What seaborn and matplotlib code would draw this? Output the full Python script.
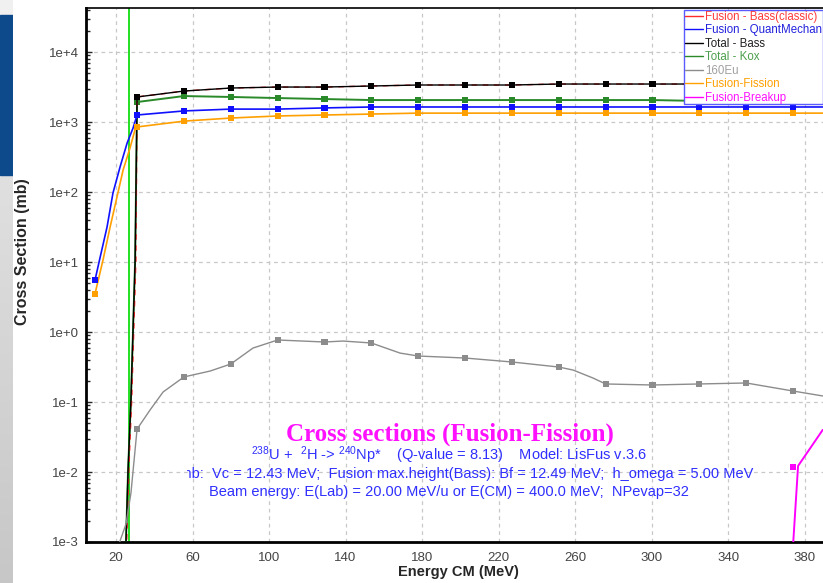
import numpy as np
import matplotlib
matplotlib.use("Agg")
import matplotlib.pyplot as plt
import seaborn as sns
from matplotlib.lines import Line2D
from matplotlib.patches import Rectangle
from matplotlib.ticker import FixedLocator, FuncFormatter, LogLocator, NullFormatter

sns.set_style("white")
plt.rcParams["font.family"] = ["Liberation Sans", "DejaVu Sans"]
plt.rcParams["mathtext.fontset"] = "custom"
plt.rcParams["mathtext.rm"] = "Liberation Sans"
plt.rcParams["mathtext.default"] = "regular"

# ---------------- data (E in MeV, cross sections in mb) ----------------
MARK_E = [9.0, 31.0, 55.5, 80.0, 104.5, 129.0, 153.5, 178.0, 202.5, 227.0,
          251.5, 276.0, 300.5, 325.0, 349.5, 374.0]

# barrier region, steep part of the classical curves
STEEP_E = [24.2, 25.2, 26.3, 27.8, 30.0]
STEEP_RED_E = [24.6, 25.6, 26.7, 28.2, 30.4]
STEEP_V = [1e-4, 1e-3, 1.07e-2, 1.07e-1, 10.7]

GRID_E = [31.0, 55.5, 80.0, 104.5, 129.0, 153.5, 178.0, 202.5, 227.0, 251.5,
          276.0, 300.5, 325.0, 349.5, 374.0, 389.5]
TOTAL_BASS = [2280, 2770, 3060, 3160, 3160, 3270, 3380, 3380, 3380, 3490,
              3490, 3490, 3490, 3490, 3490, 3490]
FUSION_BASS = [2280, 2770, 3060, 3160, 3160, 3270, 3380, 3380, 3380, 3490,
               3490, 3490, 3490, 3490, 3490, 3490]
TOTAL_KOX = [1930, 2350, 2280, 2200, 2130, 2060, 2060, 2060, 2060, 2060,
             2060, 2060, 2000, 2000, 2000, 2000]
QUANT = [1260, 1440, 1530, 1530, 1590, 1640, 1640, 1640, 1640, 1640,
         1640, 1640, 1640, 1640, 1640, 1640]
FISSION = [850, 1030, 1140, 1220, 1260, 1300, 1340, 1340, 1340, 1340,
           1340, 1340, 1340, 1340, 1340, 1340]

QUANT_RISE_E = [9.0, 11.6, 15.3, 18.4, 22.1, 25.8, 28.9]
QUANT_RISE = [5.5, 11.4, 31.6, 96.8, 228, 501, 820]
FISSION_RISE_E = [9.0, 13.2, 16.9, 20.5, 23.7, 27.3, 29.9]
FISSION_RISE = [3.5, 10.7, 31.6, 84.8, 206, 425, 769]

EU_E = [18.0, 25.2, 27.8, 31.0, 37.8, 44.6, 55.5, 69.2, 80.0, 91.6, 104.5,
        129.0, 138.7, 153.5, 168.5, 178.0, 202.5, 227.0, 251.5, 259.0, 269.4,
        276.0, 300.5, 325.0, 349.5, 374.0, 389.5]
EU_V = [5e-4, 1.8e-3, 5.0e-3, 0.041, 0.077, 0.139, 0.228, 0.277, 0.349, 0.59,
        0.769, 0.72, 0.743, 0.697, 0.50, 0.454, 0.425, 0.373, 0.316, 0.286,
        0.22, 0.181, 0.175, 0.181, 0.187, 0.1435, 0.122]

BREAKUP_E = [373.4, 376.6, 389.5]
BREAKUP_V = [5e-4, 0.0122, 0.040]
BREAKUP_MARK_E = [374.0]
BREAKUP_MARK_V = [0.0118]

BARRIER_E = 26.8

LABELS = ["Fusion - Bass(classic)", "Fusion - QuantMechan", "Total - Bass",
          "Total - Kox", "160Eu", "Fusion-Fission", "Fusion-Breakup"]
COLORS = ["#ff2a2a", "#1010ff", "#000000", "#2a8a2a", "#8c8c8c", "#ffa000", "#ff00ff"]
TEXT_COLORS = ["#ff3a3a", "#2222dd", "#202020", "#4c9e4c", "#a0a0a0", "#ffa000", "#ff10ff"]

YTICKS = [1e-3, 1e-2, 1e-1, 1e0, 1e1, 1e2, 1e3, 1e4]
YTICK_LABELS = ["1e-3", "1e-2", "1e-1", "1e+0", "1e+1", "1e+2", "1e+3", "1e+4"]
XTICKS = [20, 60, 100, 140, 180, 220, 260, 300, 340, 380]

# ---------------- figure ----------------
W, H = 823, 583
fig = plt.figure(figsize=(W / 100, H / 100), dpi=100)
fig.patch.set_facecolor("white")

# window-side strip on the left
strip = fig.add_axes([0, 0, 13 / W, 1])
grad = np.linspace(0.78, 0.92, 256)[:, None]
strip.imshow(np.dstack([grad, grad, grad]), aspect="auto", extent=[0, 1, 0, H],
             origin="lower")
strip.add_patch(Rectangle((0, H - 15), 1, 15, color="#f0f0f0"))
strip.add_patch(Rectangle((0, H - 175), 1, 160, color="#0c4a8c"))
strip.set_xlim(0, 1)
strip.set_ylim(0, H)
strip.axis("off")

ax = fig.add_axes([86 / W, 41 / H, (830 - 86) / W, (575 - 41) / H])
ax.set_yscale("log")
ax.set_xlim(4.3, 393.3)
ax.set_ylim(1e-3, 10 ** 4.629)


def draw(e, v, color, lw=1.0, z=3, ls="-", marks=True):
    sns.lineplot(x=e, y=v, ax=ax, color=color, linewidth=lw, linestyle=ls,
                 sort=False, estimator=None, zorder=z, legend=False)
    if marks:
        e = np.asarray(e)
        v = np.asarray(v)
        sel = np.isin(e, MARK_E)
        sns.scatterplot(x=e[sel], y=v[sel], ax=ax, marker="s", s=20, color=color,
                        edgecolor="none", linewidth=0, zorder=z + 0.5, legend=False)


ax.axvline(BARRIER_E, color="#22e022", lw=1.4, zorder=2.5)

draw(STEEP_E + GRID_E, STEEP_V + TOTAL_KOX, COLORS[3], lw=1.4, z=3)
draw(STEEP_RED_E + GRID_E, STEEP_V + FUSION_BASS, COLORS[0], lw=1.0, z=4,
     ls=(0, (4, 4)), marks=False)
draw(STEEP_E + GRID_E, STEEP_V + TOTAL_BASS, COLORS[2], lw=1.0, z=5)
draw(QUANT_RISE_E + GRID_E, QUANT_RISE + QUANT, COLORS[1], lw=1.2, z=5)
draw(FISSION_RISE_E + GRID_E, FISSION_RISE + FISSION, COLORS[5], lw=1.2, z=5)
draw(EU_E, EU_V, COLORS[4], lw=1.0, z=5)
draw(BREAKUP_E, BREAKUP_V, COLORS[6], lw=1.4, z=5, marks=False)
sns.scatterplot(x=BREAKUP_MARK_E, y=BREAKUP_MARK_V, ax=ax, marker="s", s=24,
                color=COLORS[6], edgecolor="none", linewidth=0, zorder=6, legend=False)

# axes styling
ax.yaxis.set_major_locator(FixedLocator(YTICKS))
ax.yaxis.set_major_formatter(FuncFormatter(lambda v, p: YTICK_LABELS[YTICKS.index(v)]
                                           if v in YTICKS else ""))
ax.yaxis.set_minor_locator(LogLocator(base=10, subs=np.arange(2, 10)))
ax.yaxis.set_minor_formatter(NullFormatter())
ax.xaxis.set_major_locator(FixedLocator(XTICKS))
ax.tick_params(axis="y", which="major", direction="in", length=4, width=1,
               labelsize=9.5, labelcolor="#444444", pad=5, left=True)
ax.tick_params(axis="y", which="minor", direction="in", length=3, width=1, left=True)
ax.tick_params(axis="x", which="major", direction="in", length=0,
               labelsize=9.5, labelcolor="#444444", pad=7)
ax.grid(True, which="major", color="#c8c8c8", linestyle=(0, (3, 3)), linewidth=0.9)
ax.set_axisbelow(True)
for side in ("left", "bottom"):
    ax.spines[side].set_linewidth(2.0)
    ax.spines[side].set_color("black")
ax.spines["top"].set_linewidth(1.2)
ax.spines["top"].set_color("black")
ax.spines["right"].set_visible(False)

ax.set_xlabel("Energy CM (MeV)", fontsize=10.5, fontweight="bold")
ax.xaxis.set_label_coords(458 / W, 1 - 565 / H, transform=fig.transFigure)
ax.set_ylabel("Cross Section (mb)", fontsize=11.5, fontweight="bold")
ax.yaxis.set_label_coords(30 / W, 1 - 252 / H, transform=fig.transFigure)

# legend
handles = [Line2D([0], [0], color=c, lw=1.0) for c in COLORS]
leg = fig.legend(handles, LABELS, loc="upper left",
                 bbox_to_anchor=(684 / W, 1 - 10 / H), bbox_transform=fig.transFigure,
                 frameon=True, fancybox=False, framealpha=1, edgecolor="#5a5aff",
                 prop={"family": "Liberation Sans", "size": 8.3},
                 borderpad=0.05, labelspacing=0.13, handlelength=1.6,
                 handletextpad=0.2, borderaxespad=0)
leg.get_frame().set_linewidth(1.0)
for t, c in zip(leg.get_texts(), TEXT_COLORS):
    t.set_color(c)
leg.set_zorder(10)


# annotation block
def px(x, y):
    return x / W, 1 - y / H


fig.text(*px(450, 434), "Cross sections (Fusion-Fission)", ha="center", va="center",
         fontsize=18, fontweight="bold", family="Liberation Serif", color="#ff10ff")
blue = "#2f2fff"
fig.text(*px(449, 455),
         r"$^{238}$U +  $^{2}$H -> $^{240}$Np*    (Q-value = 8.13)    Model: LisFus v.3.6",
         ha="center", va="center", fontsize=10.5, color=blue)

# the barrier line is cut at the left edge of its text panel
panel = fig.add_axes([187 / W, 0, 1 - 187 / W, 1])
panel.axis("off")
panel.patch.set_alpha(0)
panel.text(*px(753, 474),
           "Coulomb:  Vc = 12.43 MeV;  Fusion max.height(Bass): Bf = 12.49 MeV;  h_omega = 5.00 MeV",
           ha="right", va="center", fontsize=10.5, color=blue,
           transform=fig.transFigure, clip_on=True)

fig.text(*px(449, 492),
         "Beam energy: E(Lab) = 20.00 MeV/u or E(CM) = 400.0 MeV;  NPevap=32",
         ha="center", va="center", fontsize=10.5, color=blue)

fig.savefig("out.png", dpi=100)
